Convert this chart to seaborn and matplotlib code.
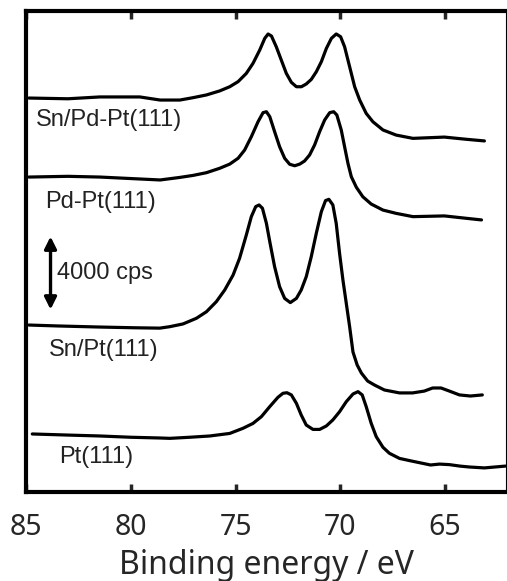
import numpy as np
import pandas as pd
import matplotlib
matplotlib.use("Agg")
import matplotlib.pyplot as plt
import seaborn as sns

DPI = 100
FIGSIZE = (507 / DPI, 581 / DPI)

# ------------------------------
# spectra: binding energy (eV) and intensity (cps, offset)

SNPDPT_E = [84.86, 83.00, 81.48, 79.57, 78.60, 77.66, 77.03, 76.39, 75.76, 75.28,
            74.88, 74.49, 74.17, 73.85, 73.61, 73.45, 73.29, 73.06, 72.82, 72.58,
            72.34, 72.10, 71.86, 71.63, 71.39, 71.15, 70.91, 70.67, 70.43, 70.20,
            69.99, 69.80, 69.64, 69.48, 69.32, 69.08, 68.77, 68.45, 67.97, 67.34,
            66.54, 65.04, 64.00, 63.13]
SNPDPT_I = [21590, 21550, 21650, 21650, 21480, 21480, 21610, 21760, 21980, 22210,
            22490, 22940, 23490, 24220, 24860, 25100, 24990, 24400, 23670, 22940,
            22450, 22210, 22210, 22360, 22610, 23030, 23580, 24310, 24860, 25100,
            24950, 24400, 23670, 22940, 22210, 21480, 20750, 20290, 19840, 19560,
            19380, 19450, 19330, 19240]

PDPT_E = [84.86, 83.00, 81.48, 79.50, 78.60, 77.66, 77.03, 76.39, 75.76, 75.28,
          74.88, 74.57, 74.25, 73.93, 73.69, 73.53, 73.37, 73.14, 72.90, 72.66,
          72.42, 72.18, 71.94, 71.71, 71.47, 71.23, 70.99, 70.75, 70.51, 70.32,
          70.17, 69.96, 69.80, 69.64, 69.48, 69.24, 68.93, 68.53, 67.97, 67.34,
          66.54, 65.04, 64.00, 63.27]
PDPT_I = [17260, 17300, 17260, 17150, 17100, 17240, 17350, 17500, 17740, 17970,
          18290, 18740, 19470, 20290, 20790, 20840, 20570, 19750, 18920, 18290,
          17960, 17880, 17970, 18140, 18470, 19020, 19750, 20390, 20790, 20840,
          20660, 19840, 18920, 18010, 17280, 16700, 16180, 15780, 15450, 15270,
          15090, 15130, 15000, 14910]

SNPT_E = [84.86, 83.50, 81.48, 79.80, 78.62, 78.14, 77.51, 76.87, 76.39, 75.92,
          75.52, 75.12, 74.81, 74.49, 74.25, 74.04, 73.88, 73.72, 73.53, 73.37,
          73.14, 72.90, 72.66, 72.39, 72.10, 71.87, 71.63, 71.39, 71.15, 70.91,
          70.71, 70.55, 70.36, 70.20, 70.04, 69.88, 69.72, 69.56, 69.40, 69.20,
          69.00, 68.70, 68.37, 67.90, 67.18, 66.56, 66.00, 65.60, 65.20, 64.80,
          64.32, 63.80, 63.23]
SNPT_I = [9150, 9100, 9040, 9000, 8980, 9060, 9210, 9520, 9880, 10430,
          11070, 11890, 12810, 14080, 15090, 15640, 15730, 15550, 14720, 13720,
          12350, 11250, 10610, 10380, 10610, 11070, 11800, 12900, 14180, 15360,
          15970, 16040, 15730, 14720, 13080, 11620, 10340, 9060, 7670, 6960,
          6520, 6080, 5860, 5590, 5430, 5430, 5530, 5700, 5700, 5530,
          5320, 5260, 5320]

PT_E = [84.70, 83.00, 81.48, 80.00, 78.62, 78.14, 77.19, 76.23, 75.28, 74.65,
        74.17, 73.77, 73.37, 72.98, 72.74, 72.55, 72.34, 72.10, 71.87, 71.63,
        71.31, 70.99, 70.67, 70.36, 70.04, 69.72, 69.40, 69.16, 68.96, 68.77,
        68.53, 68.29, 67.97, 67.66, 67.18, 66.70, 66.20, 65.70, 65.27, 64.80,
        64.30, 63.85, 63.13, 62.13]
PT_I = [3180, 3120, 3070, 3000, 2960, 2940, 3000, 3070, 3210, 3490,
        3760, 4130, 4680, 5190, 5410, 5440, 5320, 4860, 4220, 3670,
        3430, 3430, 3620, 3950, 4400, 4950, 5370, 5500, 5320, 4680,
        3760, 3030, 2450, 2120, 1840, 1720, 1600, 1480, 1530, 1500,
        1420, 1370, 1320, 1420]

LABELS = ["Sn/Pd-Pt(111)", "Pd-Pt(111)", "Sn/Pt(111)", "Pt(111)"]
LABEL_POS = [(84.53, 20390), (84.10, 15890), (83.91, 7780), (83.43, 1920)]

SCALE_E = 83.83
SCALE_LOW, SCALE_HIGH = 10000, 14000
SCALE_TEXT = "4000 cps"

XTICKS = [85, 80, 75, 70, 65]

sns.set_style("white")
plt.rcParams["font.family"] = ["Liberation Sans", "DejaVu Sans"]

frames = []
for name, e, i in zip(LABELS, [SNPDPT_E, PDPT_E, SNPT_E, PT_E], [SNPDPT_I, PDPT_I, SNPT_I, PT_I]):
    frames.append(pd.DataFrame({"energy": e, "intensity": i, "sample": name}))
df = pd.concat(frames, ignore_index=True)

fig = plt.figure(figsize=FIGSIZE, dpi=DPI)
ax = fig.add_axes([26 / 507, 89 / 581, 480 / 507, 481 / 581])

sns.lineplot(data=df, x="energy", y="intensity", hue="sample", units="sample",
             estimator=None, palette=["black"] * 4, linewidth=2.3, legend=False, ax=ax)

for txt, (x, y) in zip(LABELS, LABEL_POS):
    ax.text(x, y, txt, fontsize=17, ha="left", va="center", color="#222222")

ax.annotate("", xy=(SCALE_E, SCALE_HIGH), xytext=(SCALE_E, SCALE_LOW),
            arrowprops=dict(arrowstyle="<|-|>", color="black", lw=2.4,
                            mutation_scale=18, shrinkA=0, shrinkB=0))
ax.text(SCALE_E - 0.3, (SCALE_LOW + SCALE_HIGH) / 2, SCALE_TEXT, fontsize=17,
        ha="left", va="center", color="#222222")

ax.set_xlim(85, 62.1)
ax.set_ylim(0, 26360)
ax.set_xticks(XTICKS)
ax.set_yticks([])
ax.tick_params(axis="x", direction="in", top=True, bottom=True, length=6, width=2.5,
               pad=15, labelsize=20.5, labelfontfamily="Noto Sans")
for side in ["left", "top", "bottom"]:
    ax.spines[side].set_linewidth(3)
    ax.spines[side].set_color("black")
ax.spines["right"].set_linewidth(0.8)
ax.spines["right"].set_color("black")

ax.set_xlabel("Binding energy / eV", fontsize=23, family="Noto Sans", labelpad=5)
ax.set_ylabel("")

fig.savefig("out.png", dpi=DPI)
